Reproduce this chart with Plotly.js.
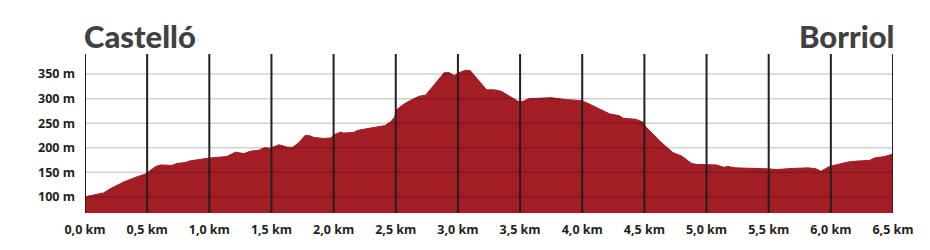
<!DOCTYPE html>
<html>
<head>
<meta charset="utf-8">
<script src="https://cdn.plot.ly/plotly-3.0.1.min.js"></script>
<style>html,body{margin:0;padding:0;background:#fff;}#chart{width:930px;height:250px;}</style>
</head>
<body>
<div id="chart"></div>
<script>
const distanceKm = [0.00,0.15,0.20,0.31,0.41,0.49,0.57,0.61,0.70,0.74,0.81,0.84,1.00,1.14,1.21,1.28,1.33,1.40,1.44,1.49,1.56,1.63,1.67,1.72,1.77,1.80,1.84,1.92,1.98,2.00,2.06,2.08,2.16,2.19,2.25,2.31,2.41,2.46,2.49,2.51,2.56,2.62,2.69,2.74,2.89,2.93,2.97,3.01,3.06,3.10,3.23,3.29,3.35,3.48,3.52,3.57,3.69,3.75,3.87,3.99,4.04,4.14,4.22,4.30,4.33,4.43,4.49,4.51,4.63,4.73,4.80,4.88,4.92,5.08,5.14,5.17,5.23,5.49,5.57,5.68,5.79,5.82,5.88,5.92,5.99,6.14,6.22,6.31,6.35,6.43,6.50];
const elevationM = [100,108,116,130,140,147,162,165,164,168,170,173,179,182,191,188,193,195,200,199,206,201,201,210,225,225,221,219,220,226,232,230,231,235,238,241,245,253,262,278,288,297,305,307,353,353,347,353,358,357,318,318,315,295,294,300,302,302,298,296,291,279,269,265,260,258,252,243,212,190,183,168,166,165,160,162,159,157,155.6,157.7,159,159,157,152,162,171,173,174,179,182,187];
const xTickVals = [0,0.5,1,1.5,2,2.5,3,3.5,4,4.5,5,5.5,6,6.5];
const xTickText = ['0,0 km','0,5 km','1,0 km','1,5 km','2,0 km','2,5 km','3,0 km','3,5 km','4,0 km','4,5 km','5,0 km','5,5 km','6,0 km','6,5 km'];
const yTickVals = [100,150,200,250,300,350];
const yTickText = ['100 m','150 m','200 m','250 m','300 m','350 m'];
const startName = 'Castelló';
const endName = 'Borriol';

const shapes = [];
yTickVals.forEach(v => shapes.push({type:'line', xref:'paper', yref:'y', x0:0, x1:1, y0:v, y1:v, layer:'above', line:{color:'rgba(0,0,0,0.18)', width:1.5}}));
xTickVals.forEach(v => shapes.push({type:'line', xref:'x', yref:'paper', x0:v, x1:v, y0:0, y1:1, layer:'above', line:{color:'#231f20', width:2}}));

const trace = {
  x: distanceKm, y: elevationM, type:'scatter', mode:'lines', fill:'tozeroy',
  fillcolor:'#a21d24', line:{color:'#a21d24', width:1}, hoverinfo:'skip'
};
const tickFont = {family:'"Open Sans", Lato, sans-serif', size:12.5, color:'#231f20', weight:'bold'};
const titleFont = {family:'Lato, "Open Sans", sans-serif', size:31, color:'#414141', weight:900};
const layout = {
  width:930, height:250,
  margin:{l:85, r:37, t:54, b:37},
  paper_bgcolor:'#fff', plot_bgcolor:'#fff',
  showlegend:false,
  xaxis:{range:[0,6.5], tickvals:xTickVals, ticktext:xTickText, showgrid:false, zeroline:false, showline:false, ticks:'', tickfont:tickFont, ticklabelstandoff:7, fixedrange:true},
  yaxis:{range:[67,391], tickvals:yTickVals, ticktext:yTickText, showgrid:false, zeroline:false, showline:false, ticks:'', tickfont:tickFont, ticklabelstandoff:9, fixedrange:true},
  shapes: shapes,
  annotations:[
    {text:startName, xref:'paper', yref:'paper', x:0, y:1, xanchor:'left', yanchor:'bottom', yshift:-3, xshift:-3, showarrow:false, font:titleFont},
    {text:endName, xref:'paper', yref:'paper', x:1, y:1, xanchor:'right', yanchor:'bottom', yshift:-3, xshift:3, showarrow:false, font:titleFont}
  ]
};
Plotly.newPlot('chart', [trace], layout, {displayModeBar:false, staticPlot:true});
</script>
</body>
</html>
